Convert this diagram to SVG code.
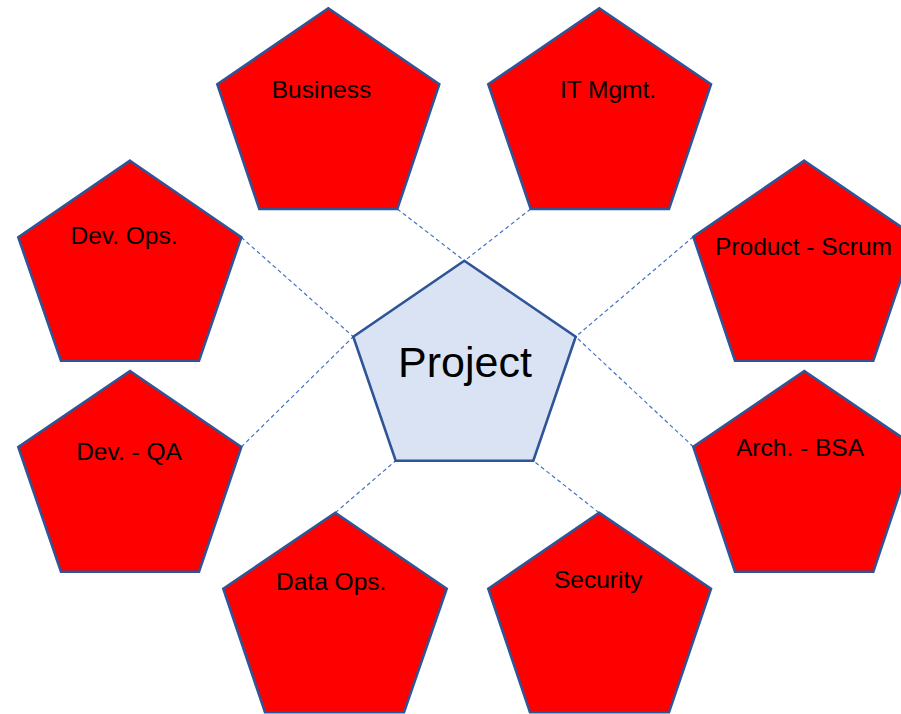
<svg xmlns="http://www.w3.org/2000/svg" width="901" height="714" viewBox="0 0 901 714">
<style>
.pent{fill:#FF0000;stroke:#2F5597;stroke-width:2.6;stroke-linejoin:miter}
.center{fill:#DAE3F3;stroke:#2F5597;stroke-width:2.6}
.lbl{font-family:"Liberation Sans",Arial,sans-serif;font-size:24.5px;fill:#000;text-anchor:middle}
.big{font-family:"Liberation Sans",Arial,sans-serif;font-size:43px;fill:#000;text-anchor:middle}
.conn{stroke:#4472C4;stroke-width:1.2;stroke-dasharray:4 3;fill:none}
</style>
<rect width="901" height="714" fill="#FFFFFF"/>
<g id="connectors">
<line class="conn" x1="397.3" y1="209" x2="468" y2="263.5"/>
<line class="conn" x1="530.7" y1="209" x2="461" y2="263.5"/>
<line class="conn" x1="241.3" y1="237.3" x2="353.3" y2="336.7"/>
<line class="conn" x1="241.3" y1="447" x2="353.3" y2="336.7"/>
<line class="conn" x1="693.3" y1="236.7" x2="575.7" y2="336.7"/>
<line class="conn" x1="693.3" y1="446.7" x2="575.7" y2="336.7"/>
<line class="conn" x1="335.3" y1="512.7" x2="395.7" y2="460.7"/>
<line class="conn" x1="599" y1="512.7" x2="533.3" y2="460.7"/>
</g>
<g id="business">
<polygon class="pent" points="328.3,8.3 439.3,84.3 397.3,209 259.3,209 217.3,84.3"/>
<text class="lbl" x="321.5" y="98">Business</text>
</g>
<g id="it-mgmt">
<polygon class="pent" points="599.3,8.3 711,84.3 669,209 530.7,209 488.3,84.3"/>
<text class="lbl" x="608" y="98">IT Mgmt.</text>
</g>
<g id="dev-ops">
<polygon class="pent" points="130,160.7 241.3,237.3 199,360.7 61,360.7 18.3,237.3"/>
<text class="lbl" x="124" y="243.5">Dev. Ops.</text>
</g>
<g id="product-scrum">
<polygon class="pent" points="804.3,160.7 915.3,236.7 873.3,360.7 735,360.7 693.3,236.7"/>
<text class="lbl" x="803.5" y="255">Product - Scrum</text>
</g>
<g id="dev-qa">
<polygon class="pent" points="130,371 241.3,447 199,571.7 61,571.7 18.3,447"/>
<text class="lbl" x="129" y="460">Dev. - QA</text>
</g>
<g id="arch-bsa">
<polygon class="pent" points="804.3,371 915.3,446.7 873.3,571.7 735,571.7 693.3,446.7"/>
<text class="lbl" x="800" y="456">Arch. - BSA</text>
</g>
<g id="data-ops">
<polygon class="pent" points="335.3,512.7 446.7,588.7 404,712.3 265,712.3 223.3,588.7"/>
<text class="lbl" x="331.2" y="590">Data Ops.</text>
</g>
<g id="security">
<polygon class="pent" points="599,512.7 711,588.7 669,712.3 530,712.3 488.3,588.7"/>
<text class="lbl" x="598.3" y="588.3">Security</text>
</g>
<g id="project">
<polygon class="center" points="464.3,260.7 575.7,336.7 533.3,460.7 395.7,460.7 353.3,336.7"/>
<text class="big" x="465" y="377">Project</text>
</g>
</svg>
